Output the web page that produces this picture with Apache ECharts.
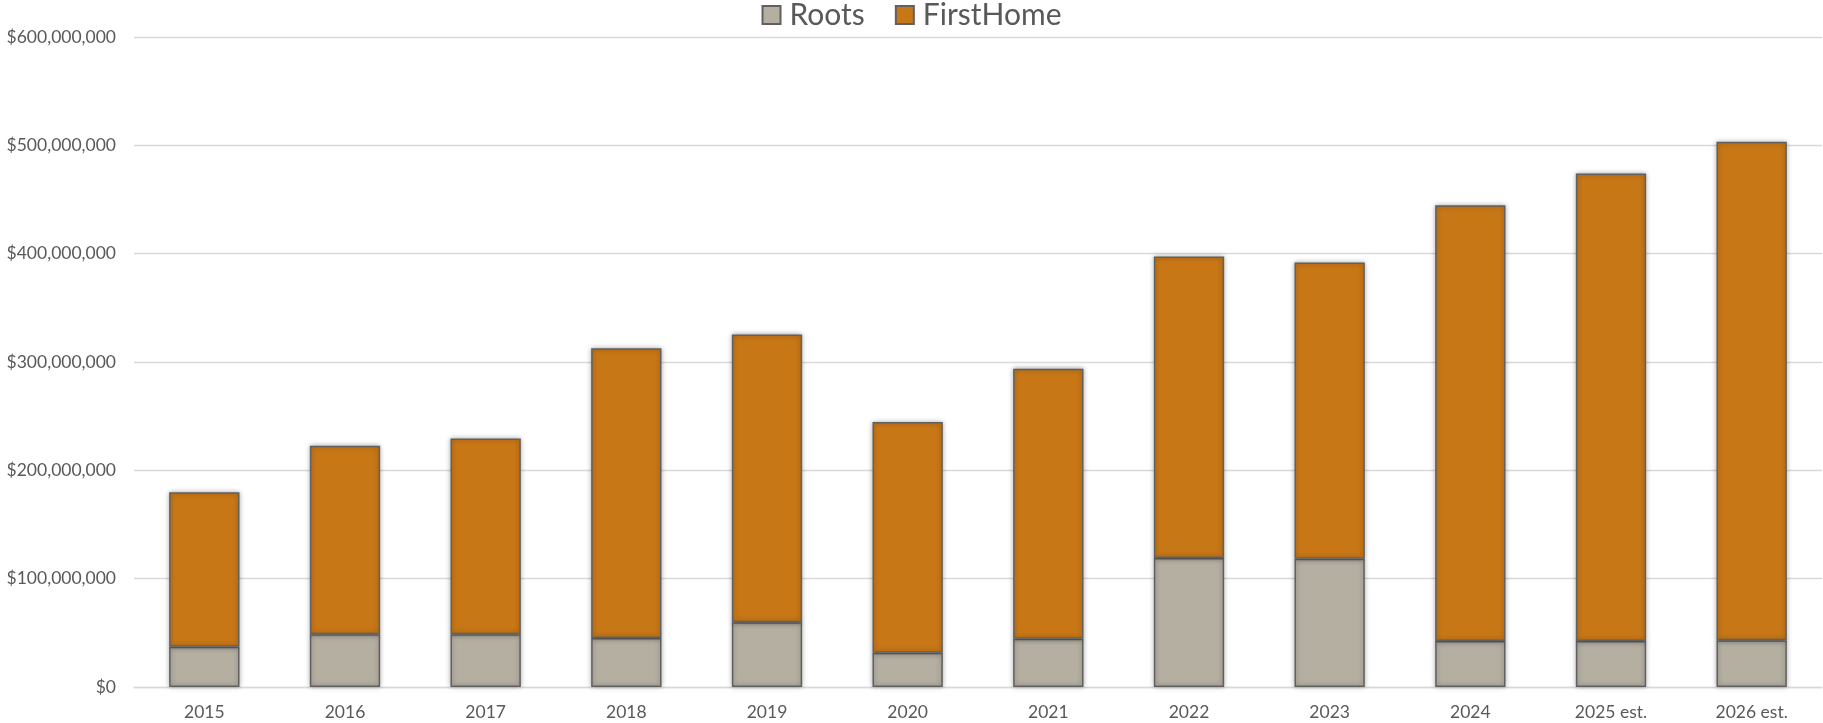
<!DOCTYPE html>
<html>
<head>
<meta charset="utf-8">
<style>
  html, body { margin: 0; padding: 0; background: #fff; }
  #chart { width: 1823px; height: 723px; }
</style>
<script src="https://cdn.jsdelivr.net/npm/echarts@6/dist/echarts.min.js"></script>
</head>
<body>
<div id="chart"></div>
<script>
"use strict";
// ---- data ----
const YEARS = ["2015", "2016", "2017", "2018", "2019", "2020", "2021",
               "2022", "2023", "2024", "2025 est.", "2026 est."];
const ROOTS = [37200000, 48700000, 48700000, 45200000, 59700000, 31700000, 44600000,
               119000000, 118300000, 42500000, 42500000, 43100000];
const FIRST_HOME = [142600000, 174100000, 180600000, 267500000, 265600000, 213000000, 249200000,
                    278300000, 273500000, 402300000, 431500000, 460100000];
const Y_TICKS = { min: 0, max: 600000000, interval: 100000000 };

const COLORS = { roots: "#B5AFA2", firstHome: "#C87716", edge: "#606060",
                 text: "#595959", grid: "#D9D9D9" };
const FONT = "Lato, 'Open Sans', sans-serif";
const money = (v) => "$" + v.toLocaleString("en-US");

const barStyle = (color) => ({
  color, borderColor: COLORS.edge, borderWidth: 1.5,
  shadowBlur: 5, shadowColor: "rgba(0,0,0,0.35)"
});

const chart = echarts.init(document.getElementById("chart"), null, { renderer: "canvas" });
chart.setOption({
  animation: false,
  backgroundColor: "#fff",
  textStyle: { fontFamily: FONT, color: COLORS.text },
  legend: {
    top: 0, left: "center", padding: 0, itemWidth: 18, itemHeight: 18, itemGap: 30,
    textStyle: { fontSize: 30, color: COLORS.text, fontFamily: FONT, padding: [0, 0, 0, 4] },
    data: [
      { name: "Roots", icon: "rect" },
      { name: "FirstHome", icon: "rect" }
    ]
  },
  grid: { left: 134, right: 1, top: 37, bottom: 36, containLabel: false },
  xAxis: {
    type: "category", data: YEARS,
    axisLine: { lineStyle: { color: COLORS.grid, width: 1.3 } },
    axisTick: { show: false },
    axisLabel: { fontSize: 17.5, color: COLORS.text, margin: 16, fontFamily: FONT }
  },
  yAxis: {
    type: "value", min: Y_TICKS.min, max: Y_TICKS.max, interval: Y_TICKS.interval,
    axisLine: { show: false }, axisTick: { show: false },
    splitLine: { lineStyle: { color: COLORS.grid, width: 1.3 } },
    axisLabel: { fontSize: 17.5, color: COLORS.text, margin: 18, fontFamily: FONT, formatter: money }
  },
  series: [
    { name: "Roots", type: "bar", stack: "total", data: ROOTS, barWidth: "50%",
      itemStyle: barStyle(COLORS.roots) },
    { name: "FirstHome", type: "bar", stack: "total", data: FIRST_HOME, barWidth: "50%",
      itemStyle: barStyle(COLORS.firstHome) }
  ]
});
</script>
</body>
</html>
